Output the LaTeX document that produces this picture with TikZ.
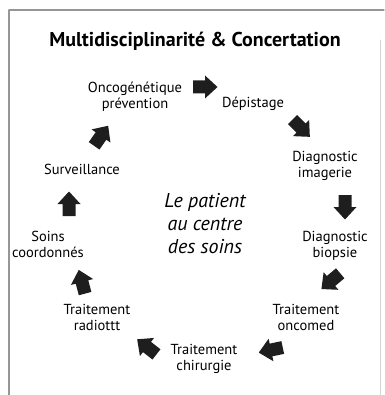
\documentclass[tikz,border=0pt]{standalone}
\usepackage{fontspec}
\setmainfont{PT Sans}
\usepackage{tikz}
\usetikzlibrary{arrows}
\definecolor{framegray}{RGB}{150,150,150}
\definecolor{arrowdark}{RGB}{30,30,30}
\tikzset{
  lbl/.style={align=center,font=\fontsize{14.5}{16}\selectfont,inner sep=0pt},
  blockarrow/.pic={\fill[arrowdark] (-12,-6.5) -- (0,-6.5) -- (0,-11.5) -- (12.5,0) -- (0,11.5) -- (0,6.5) -- (-12,6.5) -- cycle;}
}
\begin{document}
\begin{tikzpicture}[line cap=round,line join=round,x=1pt,y=-1pt]
\useasboundingbox (0,0) rectangle (384,395);
\draw[framegray,line width=1.2pt] (384,10)-- (9,10);
\draw[framegray,line width=1.2pt] (9,10)-- (9,395);
\draw[framegray!40,line width=0.6pt] (380,40)-- (380,395);
\node[inner sep=0pt,font=\fontsize{20}{22}\bfseries\selectfont] (titre) at (195,41) {Multidisciplinarité \& Concertation};
\node[lbl] (onco) at (135,97) {Oncogénétique\\prévention};
\node[lbl] (depist) at (253,104) {Dépistage};
\node[lbl] (imag) at (325,166) {Diagnostic\\imagerie};
\node[lbl] (biop) at (335,246) {Diagnostic\\biopsie};
\node[lbl] (oncomed) at (306,317) {Traitement\\oncomed};
\node[lbl] (chir) at (204,359) {Traitement\\chirurgie};
\node[lbl] (radio) at (97,317) {Traitement\\radiottt};
\node[lbl] (soins) at (48,244) {Soins\\coordonnés};
\node[lbl] (surv) at (82,169) {Surveillance};
\node[align=center,inner sep=0pt,font=\fontsize{20}{23}\itshape\selectfont] (patient) at (205,224) {Le patient\\au centre\\des soins};
\pic (a1) at (205,87) {blockarrow};
\pic[rotate=-45] (a2) at (301,128) {blockarrow};
\pic[rotate=-90] (a3) at (345,207) {blockarrow};
\pic[rotate=-140] (a4) at (331,281) {blockarrow};
\pic[rotate=-168] (a5) at (271,350) {blockarrow};
\pic[rotate=-218] (a6) at (147,347) {blockarrow};
\pic[rotate=-255] (a7) at (82,282) {blockarrow};
\pic[rotate=-270] (a8) at (69,204) {blockarrow};
\pic[rotate=-305] (a9) at (101,136) {blockarrow};
\end{tikzpicture}
\end{document}
